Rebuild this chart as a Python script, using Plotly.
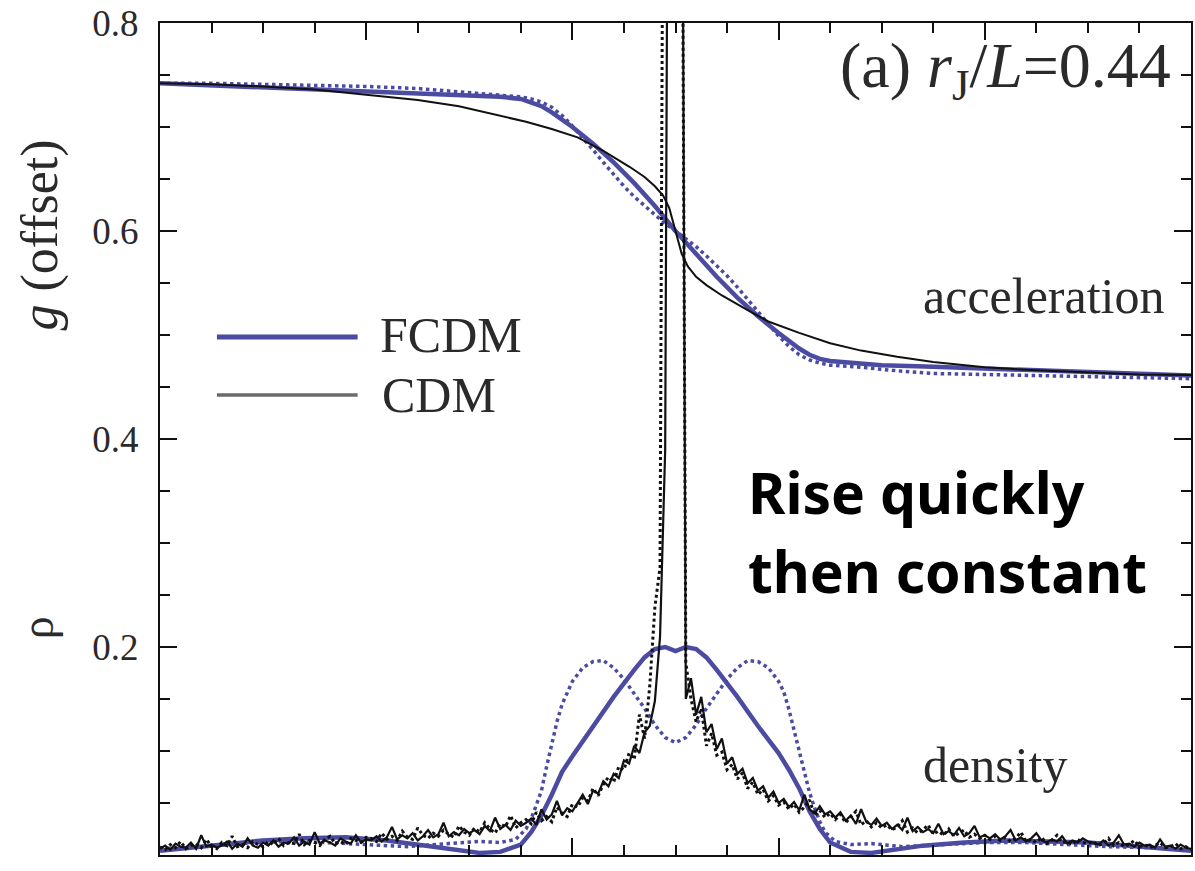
import plotly.graph_objects as go

# ---------------- data ----------------
# acceleration (offset) curves
acc_fcdm_x = [0, 0.05, 0.1, 0.15, 0.2, 0.25, 0.3, 0.33, 0.35, 0.36, 0.37, 0.38, 0.39, 0.40, 0.42, 0.44, 0.46, 0.48, 0.5,
              0.52, 0.54, 0.56, 0.58, 0.60, 0.61, 0.62, 0.63, 0.64, 0.65, 0.67, 0.70, 0.75, 0.8, 0.85, 0.9, 0.95, 1.0]
acc_fcdm_y = [0.742, 0.740, 0.738, 0.736, 0.734, 0.732, 0.730, 0.729, 0.727, 0.724, 0.720, 0.714, 0.707, 0.700, 0.684,
              0.666, 0.646, 0.624, 0.600, 0.578, 0.556, 0.536, 0.518, 0.502, 0.494, 0.487, 0.481, 0.477, 0.475, 0.473,
              0.471, 0.4695, 0.468, 0.466, 0.465, 0.463, 0.461]

acc_fcdm2_x = [0, 0.05, 0.1, 0.15, 0.2, 0.25, 0.29, 0.32, 0.35, 0.36, 0.37, 0.38, 0.39, 0.40, 0.41, 0.42, 0.43, 0.44,
               0.45, 0.46, 0.47, 0.48, 0.49, 0.5, 0.51, 0.52, 0.53, 0.54, 0.55, 0.56, 0.57, 0.58, 0.59, 0.60, 0.61,
               0.62, 0.63, 0.64, 0.65, 0.68, 0.71, 0.75, 0.8, 0.85, 0.9, 0.95, 1.0]
acc_fcdm2_y = [0.742, 0.742, 0.741, 0.740, 0.739, 0.737, 0.734, 0.731, 0.729, 0.727, 0.724, 0.719, 0.711, 0.701, 0.690,
               0.678, 0.666, 0.654, 0.643, 0.633, 0.624, 0.615, 0.607, 0.600, 0.593, 0.585, 0.576, 0.567, 0.557, 0.546,
               0.534, 0.522, 0.510, 0.499, 0.489, 0.481, 0.476, 0.473, 0.471, 0.469, 0.466, 0.463, 0.462, 0.461, 0.460,
               0.459, 0.458]

acc_cdm_x = [0, 0.05, 0.1, 0.15, 0.2, 0.25, 0.29, 0.33, 0.355, 0.38, 0.405, 0.43, 0.455, 0.47, 0.48, 0.488, 0.494, 0.5,
             0.506, 0.512, 0.52, 0.53, 0.545, 0.57, 0.59, 0.62, 0.65, 0.68, 0.715, 0.75, 0.8, 0.85, 0.9, 0.95, 1.0]
acc_cdm_y = [0.742, 0.741, 0.739, 0.736, 0.731, 0.726, 0.720, 0.711, 0.705, 0.698, 0.690, 0.677, 0.662, 0.652, 0.643,
             0.634, 0.622, 0.600, 0.578, 0.566, 0.556, 0.548, 0.538, 0.524, 0.513, 0.502, 0.492, 0.485, 0.479, 0.474,
             0.469, 0.466, 0.464, 0.462, 0.4615]

# density curves
rho_fcdm_x = [0, 0.03, 0.06, 0.1, 0.14, 0.18, 0.22, 0.26, 0.29, 0.31, 0.33, 0.35, 0.36, 0.37, 0.38, 0.39, 0.40, 0.42,
              0.44, 0.46, 0.47, 0.48, 0.49, 0.5, 0.51, 0.52, 0.53, 0.54, 0.56, 0.58, 0.60, 0.61, 0.62, 0.63, 0.64, 0.65,
              0.67, 0.69, 0.71, 0.74, 0.78, 0.82, 0.86, 0.9, 0.94, 0.97, 1.0]
rho_fcdm_y = [0.004, 0.007, 0.010, 0.014, 0.016, 0.017, 0.014, 0.009, 0.005, 0.002, 0.003, 0.010, 0.022, 0.038, 0.058,
              0.080, 0.095, 0.124, 0.152, 0.178, 0.190, 0.198, 0.200, 0.196, 0.200, 0.198, 0.190, 0.178, 0.152, 0.124,
              0.098, 0.082, 0.064, 0.042, 0.025, 0.012, 0.003, 0.002, 0.005, 0.009, 0.012, 0.014, 0.013, 0.012, 0.009,
              0.006, 0.004]

rho_fcdm2_x = [0, 0.04, 0.08, 0.12, 0.16, 0.2, 0.24, 0.28, 0.31, 0.33, 0.345, 0.355, 0.36, 0.365, 0.37, 0.375, 0.38,
               0.385, 0.39, 0.395, 0.40, 0.41, 0.42, 0.43, 0.44, 0.45, 0.46, 0.47, 0.48, 0.49, 0.5, 0.51, 0.52, 0.53,
               0.54, 0.55, 0.56, 0.57, 0.58, 0.59, 0.60, 0.605, 0.61, 0.615, 0.62, 0.625, 0.63, 0.635, 0.64, 0.645,
               0.655, 0.67, 0.69, 0.72, 0.76, 0.8, 0.84, 0.88, 0.92, 0.96, 1.0]
rho_fcdm2_y = [0.006, 0.008, 0.011, 0.013, 0.012, 0.010, 0.008, 0.011, 0.013, 0.012, 0.015, 0.025, 0.035, 0.048, 0.062,
               0.085, 0.108, 0.128, 0.145, 0.157, 0.167, 0.180, 0.186, 0.187, 0.180, 0.169, 0.155, 0.141, 0.125, 0.113,
               0.108, 0.113, 0.125, 0.141, 0.155, 0.169, 0.180, 0.187, 0.186, 0.180, 0.167, 0.157, 0.140, 0.120, 0.100,
               0.080, 0.060, 0.045, 0.032, 0.022, 0.013, 0.010, 0.011, 0.008, 0.010, 0.012, 0.012, 0.010, 0.008, 0.007,
               0.005]

rho_x = [round(i * 0.005, 3) for i in range(201)]
rho_cdm = [0.006, 0.009, 0.005, 0.011, 0.008, 0.007, 0.012, 0.006, 0.019, 0.008, 0.010, 0.007, 0.009, 0.013, 0.006,
           0.011, 0.008, 0.016, 0.009, 0.007, 0.012,
           0.009, 0.014, 0.008, 0.012, 0.011, 0.017, 0.009, 0.013, 0.010, 0.022, 0.011, 0.014, 0.012, 0.009, 0.016,
           0.013, 0.011, 0.019, 0.012, 0.015,
           0.014, 0.018, 0.013, 0.017, 0.027, 0.015, 0.019, 0.016, 0.021, 0.014, 0.018, 0.024, 0.017, 0.020, 0.031,
           0.018, 0.022, 0.019, 0.025, 0.021,
           0.024, 0.020, 0.028, 0.023, 0.036, 0.025, 0.029, 0.024, 0.033, 0.028,
           0.031, 0.035, 0.029, 0.044, 0.034, 0.039, 0.052, 0.038, 0.045, 0.042,
           0.050, 0.058, 0.049, 0.062, 0.059, 0.071, 0.066, 0.078, 0.074, 0.091,
           0.088, 0.105, 0.098, 0.118, 0.124, 0.148,
           0.210, 0.390, 1.600, 1.800, 1.400,
           0.150, 0.170,
           0.135, 0.152, 0.118, 0.126, 0.102, 0.112, 0.088,
           0.094, 0.078, 0.083, 0.069, 0.074, 0.062, 0.066, 0.055, 0.061, 0.050,
           0.054, 0.046, 0.051, 0.043, 0.058, 0.044, 0.040, 0.047, 0.039, 0.042,
           0.036, 0.041, 0.033, 0.038, 0.030, 0.044, 0.032, 0.029, 0.035, 0.028,
           0.031, 0.025, 0.029, 0.024, 0.036, 0.023, 0.027, 0.022, 0.025, 0.021, 0.030, 0.020, 0.023, 0.019, 0.026,
           0.018, 0.021, 0.028, 0.017, 0.019,
           0.016, 0.020, 0.015, 0.018, 0.024, 0.014, 0.017, 0.013, 0.016, 0.021, 0.014, 0.012, 0.015, 0.013, 0.018,
           0.011, 0.014, 0.012, 0.016, 0.013,
           0.012, 0.010, 0.014, 0.009, 0.012, 0.019, 0.010, 0.011, 0.008, 0.012, 0.009, 0.010, 0.007, 0.015, 0.008,
           0.009, 0.006, 0.010, 0.007, 0.006]
rho_cdm2 = [0.008, 0.005, 0.010, 0.007, 0.013, 0.006, 0.009, 0.011, 0.007, 0.015, 0.008, 0.006, 0.012, 0.009, 0.018,
            0.008, 0.010, 0.007, 0.013, 0.010, 0.008,
            0.013, 0.010, 0.016, 0.009, 0.012, 0.011, 0.020, 0.010, 0.014, 0.012, 0.009, 0.015, 0.018, 0.011, 0.013,
            0.010, 0.016, 0.014, 0.012, 0.017,
            0.016, 0.013, 0.021, 0.015, 0.018, 0.014, 0.023, 0.017, 0.015, 0.026, 0.019, 0.016, 0.021, 0.018, 0.024,
            0.020, 0.017, 0.028, 0.022, 0.019,
            0.026, 0.022, 0.031, 0.025, 0.021, 0.030, 0.027, 0.038, 0.026, 0.031,
            0.034, 0.030, 0.041, 0.033, 0.037, 0.032, 0.046, 0.040, 0.037, 0.049,
            0.046, 0.055, 0.052, 0.064, 0.057, 0.068, 0.075, 0.070, 0.085, 0.082,
            0.098, 0.092, 0.135, 0.112, 0.162, 0.238,
            0.277, 1.500, 1.700, 1.600, 1.300, 0.185, 0.150,
            0.128, 0.141, 0.105, 0.117, 0.096, 0.099, 0.082,
            0.087, 0.073, 0.079, 0.064, 0.070, 0.058, 0.063, 0.052, 0.057, 0.048,
            0.051, 0.044, 0.049, 0.041, 0.046, 0.053, 0.038, 0.043, 0.036, 0.040,
            0.034, 0.039, 0.031, 0.036, 0.042, 0.029, 0.033, 0.027, 0.031, 0.026,
            0.029, 0.024, 0.027, 0.033, 0.022, 0.026, 0.021, 0.024, 0.029, 0.020, 0.023, 0.019, 0.025, 0.018, 0.021,
            0.024, 0.017, 0.020, 0.016, 0.019,
            0.015, 0.018, 0.014, 0.017, 0.013, 0.016, 0.022, 0.013, 0.015, 0.012, 0.017, 0.011, 0.014, 0.019, 0.012,
            0.013, 0.010, 0.015, 0.012, 0.011,
            0.013, 0.009, 0.011, 0.016, 0.009, 0.012, 0.008, 0.010, 0.014, 0.008, 0.010, 0.007, 0.009, 0.012, 0.007,
            0.008, 0.011, 0.006, 0.008, 0.005]

y_tick_vals = [0, 0.2, 0.4, 0.6, 0.8]
y_tick_text = ["0", "0.2", "0.4", "0.6", "0.8"]

# ---------------- styling ----------------
BLUE = "#4b4ba2"
BLACK = "#111111"
TXT = "#2a2a2a"
SERIF = "Liberation Serif, Times New Roman, serif"
SANS = "Noto Sans, Open Sans, sans-serif"

fig = go.Figure()

# blue (FCDM) curves
fig.add_trace(go.Scatter(x=rho_fcdm2_x, y=rho_fcdm2_y, mode="lines",
                         line=dict(color=BLUE, width=3.5, dash="dot"), showlegend=False))
fig.add_trace(go.Scatter(x=acc_fcdm2_x, y=acc_fcdm2_y, mode="lines",
                         line=dict(color=BLUE, width=3.5, dash="dot"), showlegend=False))
fig.add_trace(go.Scatter(x=rho_fcdm_x, y=rho_fcdm_y, mode="lines",
                         line=dict(color=BLUE, width=4.5), showlegend=False))
fig.add_trace(go.Scatter(x=acc_fcdm_x, y=acc_fcdm_y, mode="lines",
                         line=dict(color=BLUE, width=4.5), showlegend=False))
# black (CDM) curves
fig.add_trace(go.Scatter(x=rho_x, y=rho_cdm2, mode="lines",
                         line=dict(color=BLACK, width=3, dash="dot"), showlegend=False))
fig.add_trace(go.Scatter(x=rho_x, y=rho_cdm, mode="lines",
                         line=dict(color=BLACK, width=2.2), showlegend=False))
fig.add_trace(go.Scatter(x=acc_cdm_x, y=acc_cdm_y, mode="lines",
                         line=dict(color=BLACK, width=2), showlegend=False))

# legend samples
fig.add_shape(type="line", xref="paper", yref="paper", x0=0.0552, x1=0.1917, y0=0.6226, y1=0.6226,
              line=dict(color=BLUE, width=5))
fig.add_shape(type="line", xref="paper", yref="paper", x0=0.0552, x1=0.1917, y0=0.5529, y1=0.5529,
              line=dict(color="#6a6a6a", width=3.5))

ann = []
def txt(text, x, y, size, xanchor="left", yanchor="middle", font=SERIF, color=TXT, angle=0):
    ann.append(dict(text=text, x=x, y=y, xref="paper", yref="paper", xanchor=xanchor, yanchor=yanchor,
                    showarrow=False, textangle=angle, font=dict(family=font, size=size, color=color)))

txt("FCDM", 0.211, 0.6250, 50)
txt("CDM", 0.213, 0.5529, 50)
txt("acceleration", 0.7377, 0.6713, 50)
txt("density", 0.7386, 0.1076, 50)
txt("(a) <i>r</i><sub>J</sub>/<i>L</i>=0.44", 0.9826, 0.9430, 64, xanchor="right")
txt("<b>Rise quickly</b>", 0.568, 0.4363, 57, font=SANS, color="#000000")
txt("<b>then constant</b>", 0.568, 0.3413, 57, font=SANS, color="#000000")
txt("<i>g</i> (offset)", -0.116, 0.745, 52, xanchor="center", angle=-90)
txt("ρ", -0.118, 0.273, 46, xanchor="center", angle=-90)
fig.update_layout(annotations=ann)

axis_common = dict(showline=True, linecolor="#111", linewidth=2, mirror="allticks", ticks="inside",
                   tickcolor="#111", tickwidth=2, showgrid=False, zeroline=False)
fig.update_xaxes(range=[0, 1], dtick=0.2, tick0=0, ticklen=17, showticklabels=False,
                 minor=dict(dtick=0.05, ticks="inside", ticklen=10, tickcolor="#111", tickwidth=2),
                 **axis_common)
fig.update_yaxes(range=[0, 0.8], tickvals=y_tick_vals, ticktext=y_tick_text, ticklen=17,
                 tickfont=dict(family=SERIF, size=37, color=TXT), ticklabelstandoff=12,
                 minor=dict(dtick=0.05, ticks="inside", ticklen=10, tickcolor="#111", tickwidth=2),
                 **axis_common)

fig.update_layout(width=1195, height=871, margin=dict(l=160, r=2, t=23, b=16),
                  plot_bgcolor="white", paper_bgcolor="white", showlegend=False)

fig.write_html("out.html")
